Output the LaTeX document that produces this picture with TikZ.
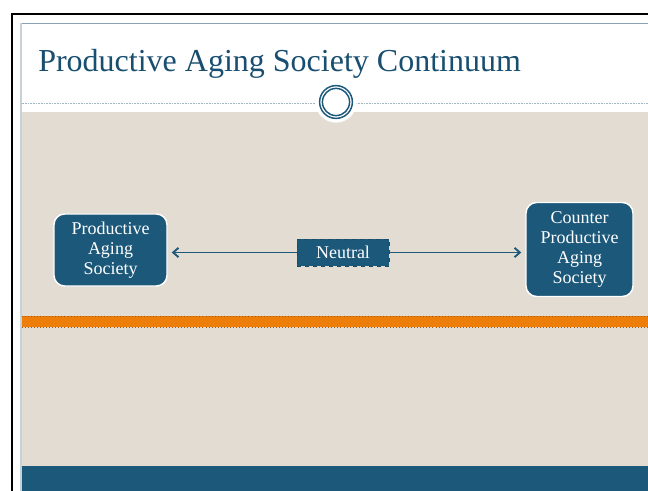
\documentclass[tikz,border=0pt]{standalone}
\usepackage{fontspec}
\setmainfont{Liberation Serif}
\usetikzlibrary{arrows.meta}

\definecolor{slideblue}{RGB}{28,88,122}
\definecolor{titleblue}{RGB}{24,78,112}
\definecolor{beige}{RGB}{226,220,210}
\definecolor{bandorange}{RGB}{237,126,10}
\definecolor{rulegray}{RGB}{140,162,178}

\tikzset{
  society/.style={draw=white, line width=1.1pt, fill=slideblue, rounded corners=8pt,
    text=white, align=center, inner sep=0pt, font=\fontsize{13.5}{15}\selectfont},
  neutralbox/.style={draw=slideblue!85!black, dashed, line width=0.3pt, fill=slideblue,
    text=white, inner sep=0pt, font=\fontsize{13.5}{15}\selectfont},
  link/.style={slideblue, line width=1.4pt, -{Straight Barb[length=4pt,width=7pt]}, shorten >=3pt}
}

\begin{document}
\begin{tikzpicture}[x=0.75pt,y=-0.75pt]
\useasboundingbox (0,0) rectangle (648,491);
\fill[white] (0,0) rectangle (648,491);

% slide frame and bands
\draw[line width=1.5pt] (12,491) -- (12,14) -- (648,14);
\draw[rulegray, line width=0.8pt] (648,23.5) -- (21,23.5);
\draw[rulegray!50, line width=1pt] (21,23.5) -- (21,491);
\fill[beige] (21.5,112) rectangle (648,466);
\fill[bandorange] (21.5,316) rectangle (648,327);
\draw[bandorange!70!black, dotted, line width=0.3pt] (21.5,316) -- (648,316) (21.5,327) -- (648,327);
\fill[slideblue] (21.5,466) rectangle (648,491);

% title and rule
\node[anchor=base west, text=titleblue, inner sep=0pt, font=\fontsize{24}{30}\selectfont] (title) at (38,72) {Productive Aging Society Continuum};
\draw[rulegray!80, dash pattern=on 0.6pt off 0.6pt, line width=0.6pt] (21.5,103) -- (648,103);
\fill[white] (336,102) circle (15.5pt);
\draw[slideblue, line width=1.1pt] (336,102) circle (12.3pt);
\draw[slideblue, line width=1.1pt] (336,102) circle (10.2pt);

% continuum
\node[society, minimum width=84.75pt, minimum height=54pt] (pas) at (110.5,250) {Productive\\Aging\\Society};
\node[society, minimum width=80.25pt, minimum height=70.5pt] (cpas) at (579.5,249.5) {Counter\\Productive\\Aging\\Society};
\node[neutralbox, minimum width=69pt, minimum height=20.25pt] (neutral) at (343,252.5) {Neutral};
\draw[link] (neutral.west) -- (neutral.west -| pas.east);
\draw[link] (neutral.east) -- (neutral.east -| cpas.west);
\end{tikzpicture}
\end{document}
